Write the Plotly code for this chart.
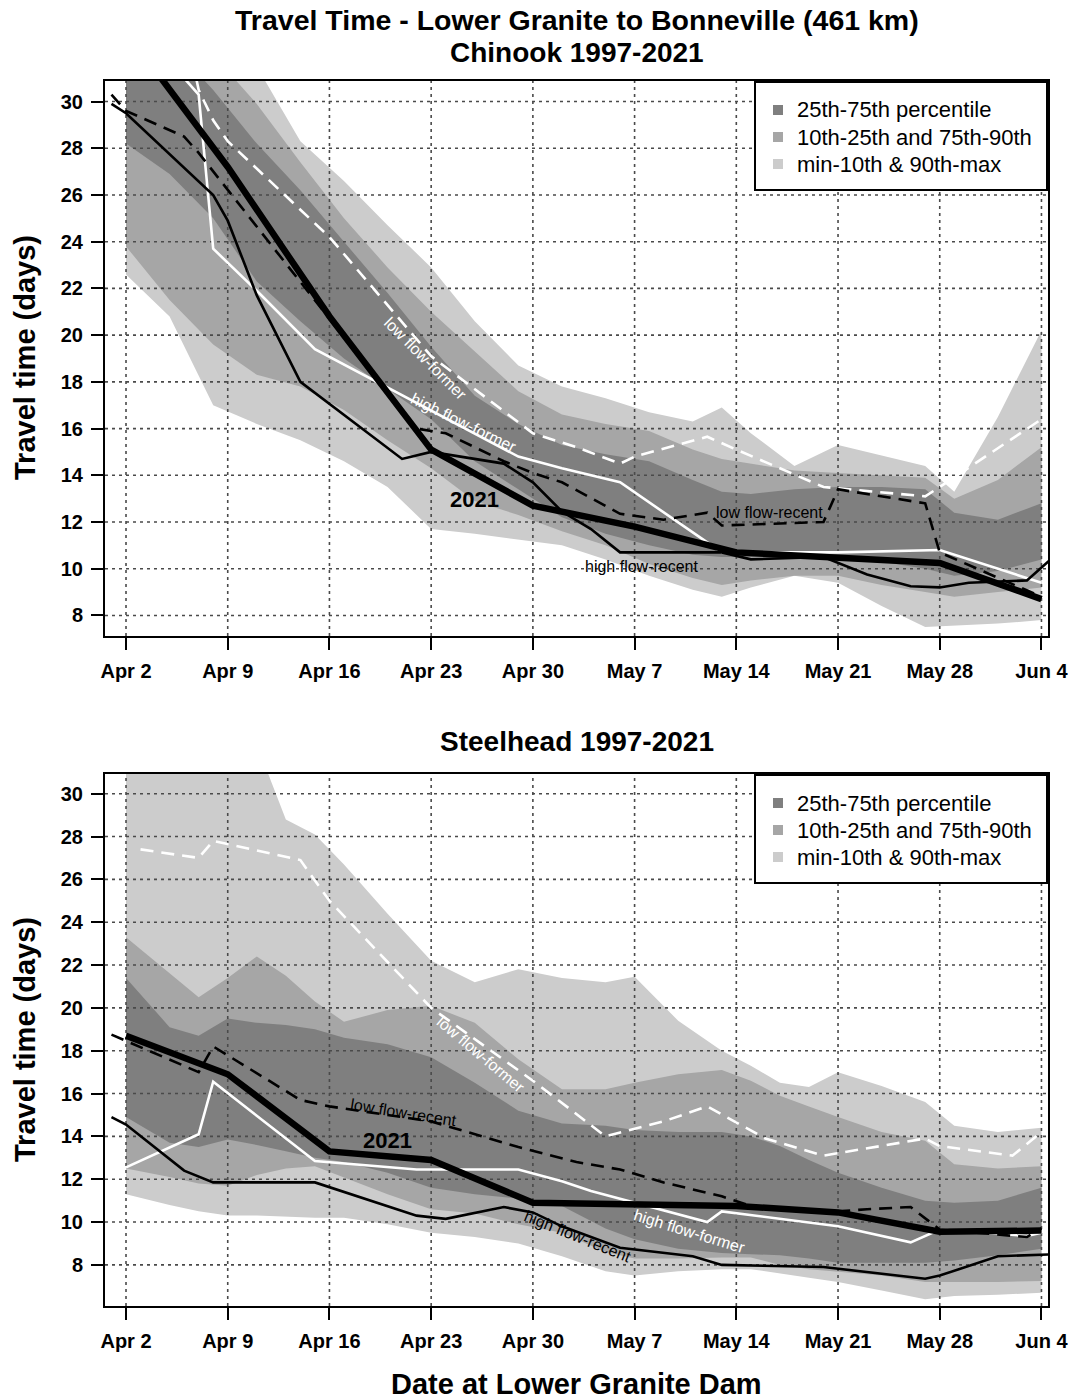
import datetime as dt
import plotly.graph_objects as go

# ---------------------------------------------------------------------------
# Data (days counted from Apr 2, 2021 at Lower Granite Dam; values in days)
# ---------------------------------------------------------------------------
BASE = dt.datetime(2021, 4, 2)

# Chinook percentile envelopes
chinook_band_days = [0, 3, 6, 9, 12, 15, 18, 21, 24, 27, 30, 33, 36, 39, 41, 43, 46, 49, 52, 55, 57, 60, 63]
chinook_max = [36, 35, 33.5, 31.5, 28.3, 26.6, 24.7, 22.9, 20.6, 18.7, 17.8, 17.3, 16.7, 16.3, 16.9, 15.8, 14.4, 15.3, 14.85, 14.4, 13.3, 16.5, 20.2]
chinook_p90 = [34, 33, 32, 29.9, 27.4, 25.0, 22.9, 21.0, 19.3, 17.6, 16.6, 16.2, 15.9, 15.1, 14.7, 14.5, 14.2, 14.1, 14.0, 13.9, 13.0, 13.8, 15.2]
chinook_p75 = [33, 32.5, 30.5, 28.2, 26.2, 24.0, 21.8, 19.5, 17.4, 16.2, 15.3, 14.9, 14.6, 13.8, 13.3, 13.2, 13.4, 13.5, 13.5, 13.4, 12.4, 12.1, 12.8]
chinook_p25 = [28.2, 26.9, 25.0, 22.3, 20.6, 19.0, 17.7, 16.4, 14.6, 13.4, 12.2, 11.5, 11.0, 10.6, 10.5, 10.5, 10.5, 10.5, 10.3, 10.0, 9.7, 9.9, 10.4]
chinook_p10 = [23.8, 21.5, 19.6, 18.3, 17.8, 16.8, 15.5, 14.3, 12.9, 12.3, 11.6, 11.0, 10.2, 9.6, 9.3, 9.5, 9.7, 9.7, 9.3, 9.0, 8.8, 9.0, 9.2]
chinook_min = [22.6, 20.8, 17.0, 16.2, 15.5, 14.6, 13.5, 11.7, 11.5, 11.25, 11.0, 10.4, 9.7, 9.1, 8.8, 9.2, 9.7, 9.4, 8.4, 7.5, 7.55, 7.65, 7.8]

# Chinook reference years
chinook_2021_days = [0, 7, 14, 21, 28, 35, 42, 49, 56, 63]
chinook_2021 = [33.0, 27.2, 20.8, 15.1, 12.7, 11.8, 10.7, 10.5, 10.25, 8.7]
chinook_lff_days = [0, 5, 6, 7, 14, 21, 28, 31, 34, 35, 40, 42, 48, 55, 56, 63]
chinook_lff = [45, 30.5, 29.2, 28.3, 24.2, 19.1, 15.8, 15.2, 14.5, 14.8, 15.65, 15.1, 13.5, 13.1, 13.5, 16.4]
chinook_hff_days = [0, 5, 6, 9, 13, 27, 30, 34, 41, 49, 56, 63]
chinook_hff = [33.8, 30.3, 23.7, 21.9, 19.4, 14.8, 14.3, 13.7, 10.7, 10.7, 10.8, 9.4]
chinook_lfr_days = [-1, 0, 4, 5, 14, 20, 22, 26, 28, 30, 34, 37, 40, 41, 48, 49, 55, 56, 63]
chinook_lfr = [30.3, 29.6, 28.5, 27.8, 20.7, 16.0, 15.8, 14.6, 14.1, 13.7, 12.35, 12.1, 12.4, 11.85, 12.0, 13.4, 12.8, 10.7, 8.8]
chinook_hfr_days = [-1, 0, 6, 7, 9, 12, 19, 21, 26, 28, 30, 32, 34, 41, 43, 48, 51, 54, 56, 58, 62, 64]
chinook_hfr = [29.9, 29.5, 26.0, 24.9, 21.7, 18.0, 14.7, 15.0, 14.5, 13.7, 12.45, 11.7, 10.7, 10.7, 10.4, 10.5, 9.75, 9.25, 9.2, 9.4, 9.5, 10.6]

# Steelhead percentile envelopes
steel_band_days = [0, 3, 5, 7, 9, 11, 13, 15, 18, 21, 24, 27, 30, 33, 35, 38, 41, 43, 45, 47, 49, 52, 55, 57, 60, 63]
steel_max = [34, 34, 34, 34, 32.3, 28.8, 28.1, 26.7, 24.4, 22.2, 21.2, 21.8, 21.4, 21.2, 21.45, 19.4, 18.0, 17.3, 16.5, 16.3, 17.0, 16.35, 15.6, 14.5, 14.2, 14.4]
steel_p90 = [23.3, 21.6, 20.5, 21.4, 22.4, 21.5, 20.3, 19.35, 19.9, 20.1, 19.3, 17.6, 16.2, 16.2, 16.5, 16.9, 17.1, 16.6, 15.9, 15.4, 14.9, 14.2, 13.8, 12.7, 12.5, 12.6]
steel_p75 = [21.4, 19.1, 18.7, 19.5, 19.3, 19.2, 19.0, 18.6, 18.3, 17.7, 16.5, 15.2, 14.6, 14.5, 14.3, 14.2, 14.2, 14.0, 13.55, 12.9, 12.3, 11.6, 11.0, 10.9, 11.0, 11.6]
steel_p25 = [14.9, 13.7, 13.5, 13.85, 13.6, 13.3, 13.0, 12.8, 12.3, 11.6, 11.3, 11.1, 10.75, 9.7, 9.2, 8.75, 8.55, 8.5, 8.45, 8.3, 8.1, 8.1, 8.1, 8.2, 8.45, 8.75]
steel_p10 = [12.5, 12.1, 11.8, 11.7, 12.2, 12.5, 12.6, 12.1, 11.3, 10.6, 10.4, 9.9, 9.5, 8.6, 8.3, 8.3, 8.35, 8.35, 8.0, 7.8, 7.7, 7.5, 7.2, 7.2, 7.2, 7.25]
steel_min = [11.3, 10.8, 10.5, 10.3, 10.3, 10.25, 10.2, 10.2, 9.9, 9.5, 9.3, 9.0, 8.4, 7.7, 7.5, 7.7, 7.8, 7.8, 7.6, 7.4, 7.2, 6.8, 6.4, 6.55, 6.6, 6.7]

# Steelhead reference years
steel_2021_days = [0, 7, 14, 21, 28, 35, 42, 49, 56, 63]
steel_2021 = [18.7, 16.9, 13.3, 12.9, 10.9, 10.85, 10.75, 10.45, 9.55, 9.6]
steel_lff_days = [1, 5, 6, 12, 14, 21, 28, 33, 37, 40, 44, 48, 55, 56, 61, 63]
steel_lff = [27.4, 27.0, 27.8, 26.9, 25.0, 20.0, 16.6, 14.0, 14.7, 15.4, 13.9, 13.1, 13.9, 13.55, 13.1, 14.2]
steel_hff_days = [0, 5, 6, 13, 20, 27, 30, 32, 40, 41, 49, 54, 56, 62, 63]
steel_hff = [12.55, 14.1, 16.55, 12.85, 12.45, 12.45, 11.9, 11.45, 10.0, 10.5, 9.8, 9.05, 9.65, 9.35, 9.5]
steel_lfr_days = [-1, 5, 6, 12, 14, 21, 27, 31, 34, 37, 41, 43, 48, 51, 54, 56, 62, 63]
steel_lfr = [18.75, 17.0, 18.2, 15.7, 15.4, 14.7, 13.5, 12.8, 12.45, 11.85, 11.2, 10.75, 10.45, 10.6, 10.7, 9.65, 9.3, 9.7]
steel_hfr_days = [-1, 0, 4, 6, 13, 20, 22, 26, 28, 30, 34, 39, 41, 48, 55, 56, 60, 63, 64]
steel_hfr = [14.9, 14.55, 12.4, 11.85, 11.85, 10.3, 10.15, 10.7, 10.45, 9.8, 8.8, 8.4, 8.0, 7.9, 7.35, 7.5, 8.4, 8.5, 8.5]

# Axis ticks
tick_days = [0, 7, 14, 21, 28, 35, 42, 49, 56, 63]
tick_labels = ["Apr 2", "Apr 9", "Apr 16", "Apr 23", "Apr 30", "May 7", "May 14", "May 21", "May 28", "Jun 4"]
y_ticks = [8, 10, 12, 14, 16, 18, 20, 22, 24, 26, 28, 30]

band_names = ["25th-75th percentile", "10th-25th and 75th-90th", "min-10th & 90th-max"]

# ---------------------------------------------------------------------------
FONT = "Arial, 'Liberation Sans', sans-serif"
C_DARK, C_MID, C_LIGHT = "#7f7f7f", "#a6a6a6", "#cccccc"
GRID = "#4a4a4a"

W, H = 1072, 1399
M_L, M_R, M_T, M_B = 105, 24, 81, 93
PW, PH = W - M_L - M_R, H - M_T - M_B

X_RANGE = [BASE - dt.timedelta(hours=34.7), BASE + dt.timedelta(days=63, hours=10.8)]
Y_RANGE_TOP = [7.12, 30.88]
Y_RANGE_BOT = [6.08, 30.92]


def px_x(p):
    return (p - M_L) / PW


def px_y(p):
    return (H - M_B - p) / PH


TOP_DOMAIN = [px_y(636), 1.0]
BOT_DOMAIN = [0.0, px_y(774)]


def dates(days):
    return [BASE + dt.timedelta(days=d) for d in days]


fig = go.Figure()


def add_band(days, lower, upper, color, xa, ya):
    xs = dates(days)
    fig.add_trace(go.Scatter(
        x=xs + xs[::-1], y=list(upper) + list(lower)[::-1],
        fill="toself", fillcolor=color, mode="lines", line=dict(width=0),
        hoverinfo="skip", showlegend=False, xaxis=xa, yaxis=ya))


def add_grid(yr, xa, ya):
    gx, gy = [], []
    for d in dates(tick_days):
        gx += [d, d, None]
        gy += [yr[0], yr[1], None]
    for v in y_ticks:
        gx += [X_RANGE[0], X_RANGE[1], None]
        gy += [v, v, None]
    fig.add_trace(go.Scatter(x=gx, y=gy, mode="lines",
                             line=dict(color=GRID, width=1.6, dash="3px,4px"),
                             hoverinfo="skip", showlegend=False, xaxis=xa, yaxis=ya))


def add_line(days, vals, color, width, dash, xa, ya):
    fig.add_trace(go.Scatter(x=dates(days), y=vals, mode="lines",
                             line=dict(color=color, width=width, dash=dash),
                             hoverinfo="skip", showlegend=False, xaxis=xa, yaxis=ya))


def add_key(top_px):
    """Boxed key in the upper-right corner of a panel."""
    left, right, bottom = 755, 1047, top_px + 108
    fig.add_shape(type="rect", xref="paper", yref="paper",
                  x0=px_x(left), x1=px_x(right), y0=px_y(bottom), y1=px_y(top_px),
                  line=dict(color="black", width=2), fillcolor="white", layer="above")
    for i, (name, col) in enumerate(zip(band_names, [C_DARK, C_MID, C_LIGHT])):
        cy = top_px + 28 + 27 * i
        fig.add_shape(type="rect", xref="paper", yref="paper",
                      x0=px_x(773), x1=px_x(783), y0=px_y(cy + 5), y1=px_y(cy - 5),
                      line=dict(width=0), fillcolor=col, layer="above")
        fig.add_annotation(text=name, xref="paper", yref="paper",
                           x=px_x(795), y=px_y(cy), xanchor="left", yanchor="middle",
                           showarrow=False,
                           font=dict(family=FONT, size=22, color="black"))


DASH = "13px,8px"

panels = [
    ("x", "y", Y_RANGE_TOP, 82,
     (chinook_band_days, chinook_min, chinook_max, chinook_p10, chinook_p90, chinook_p25, chinook_p75),
     [(chinook_lff_days, chinook_lff, "white", 2.6, DASH),
      (chinook_hff_days, chinook_hff, "white", 2.6, "solid"),
      (chinook_lfr_days, chinook_lfr, "black", 2.6, DASH),
      (chinook_hfr_days, chinook_hfr, "black", 2.6, "solid"),
      (chinook_2021_days, chinook_2021, "black", 6.5, "solid")]),
    ("x2", "y2", Y_RANGE_BOT, 775,
     (steel_band_days, steel_min, steel_max, steel_p10, steel_p90, steel_p25, steel_p75),
     [(steel_lff_days, steel_lff, "white", 2.6, DASH),
      (steel_hff_days, steel_hff, "white", 2.6, "solid"),
      (steel_lfr_days, steel_lfr, "black", 2.6, DASH),
      (steel_hfr_days, steel_hfr, "black", 2.6, "solid"),
      (steel_2021_days, steel_2021, "black", 6.5, "solid")]),
]

for xa, ya, yr, key_top, bands, lines in panels:
    bd, mn, mx, p10, p90, p25, p75 = bands
    add_band(bd, mn, mx, C_LIGHT, xa, ya)
    add_band(bd, p10, p90, C_MID, xa, ya)
    add_band(bd, p25, p75, C_DARK, xa, ya)
    add_grid(yr, xa, ya)
    for d, v, c, w, ds in lines:
        add_line(d, v, c, w, ds, xa, ya)
    add_key(key_top)

# ---------------------------------------------------------------------------
axis_common = dict(showline=True, linewidth=2, linecolor="black", mirror=True,
                   ticks="outside", ticklen=12, tickwidth=2, tickcolor="black",
                   showgrid=False, zeroline=False,
                   tickfont=dict(family=FONT, size=20, color="black", weight="bold"))

xaxis_common = dict(axis_common, type="date", range=X_RANGE,
                    tickvals=dates(tick_days), ticktext=tick_labels, ticklabelstandoff=4)
yaxis_common = dict(axis_common, tickvals=y_ticks, ticklabelstandoff=4)

fig.update_layout(
    width=W, height=H,
    margin=dict(l=M_L, r=M_R, t=M_T, b=M_B, autoexpand=False),
    paper_bgcolor="white", plot_bgcolor="white",
    font=dict(family=FONT, color="black"),
    xaxis=dict(xaxis_common, domain=[0, 1], anchor="y"),
    yaxis=dict(yaxis_common, domain=TOP_DOMAIN, range=Y_RANGE_TOP, anchor="x"),
    xaxis2=dict(xaxis_common, domain=[0, 1], anchor="y2"),
    yaxis2=dict(yaxis_common, domain=BOT_DOMAIN, range=Y_RANGE_BOT, anchor="x2"),
    showlegend=False,
)


# Titles and axis labels
def paper_text(text, x, y, size, angle=0):
    fig.add_annotation(text=text, x=x, y=y, xref="paper", yref="paper",
                       xanchor="center", yanchor="middle", showarrow=False,
                       textangle=angle,
                       font=dict(family=FONT, size=size, color="black", weight="bold"))


paper_text("Travel Time - Lower Granite to Bonneville (461 km)", 0.5, px_y(20), 28.5)
paper_text("Chinook 1997-2021", 0.5, px_y(53), 28)
paper_text("Steelhead 1997-2021", 0.5, px_y(741), 28)
paper_text("Date at Lower Granite Dam", 0.5, px_y(1384), 29)
paper_text("Travel time (days)", px_x(25), px_y(358), 29, -90)
paper_text("Travel time (days)", px_x(25), px_y(1040), 29, -90)


# In-plot series labels
def series_label(text, day, val, xa, ya, color, size=16, angle=0, bold=False):
    fig.add_annotation(text=text, x=BASE + dt.timedelta(days=day), y=val,
                       xref=xa, yref=ya, showarrow=False, textangle=angle,
                       xanchor="center", yanchor="middle",
                       font=dict(family=FONT, size=size, color=color,
                                 weight="bold" if bold else "normal"))


series_label("low flow-former", 20.6, 19.0, "x", "y", "white", angle=45)
series_label("high flow-former", 23.2, 16.25, "x", "y", "white", angle=26)
series_label("2021", 23.95, 12.95, "x", "y", "black", size=22, bold=True)
series_label("low flow-recent", 44.3, 12.4, "x", "y", "black")
series_label("high flow-recent", 35.5, 10.1, "x", "y", "black")

series_label("low flow-former", 24.4, 17.8, "x2", "y2", "white", angle=40)
series_label("low flow-recent", 19.1, 15.1, "x2", "y2", "black", angle=9)
series_label("2021", 18.0, 13.8, "x2", "y2", "black", size=22, bold=True)
series_label("high flow-former", 38.8, 9.58, "x2", "y2", "white", angle=17)
series_label("high flow-recent", 31.1, 9.33, "x2", "y2", "black", angle=22)

fig.write_html("out.html")
